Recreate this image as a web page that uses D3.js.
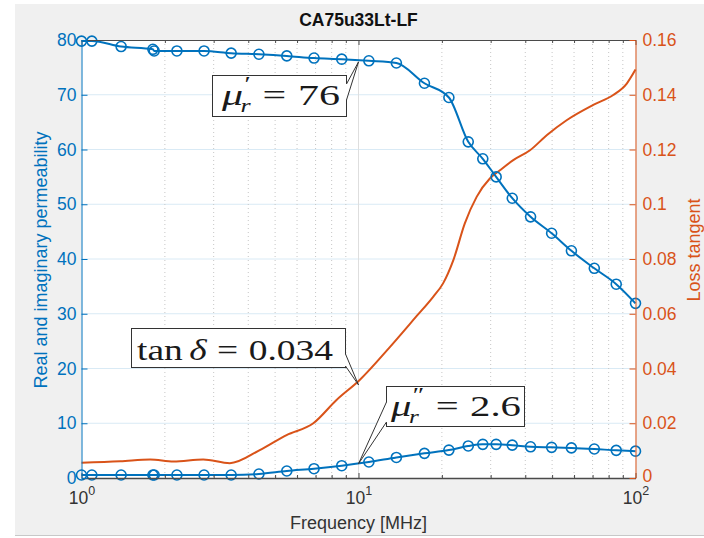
<!DOCTYPE html>
<html lang="en">
<head>
<meta charset="utf-8">
<title>CA75u33Lt-LF</title>
<style>
    body { margin: 0; background: #fff; }
    svg { display: block; font-family: "Liberation Sans", Arial, sans-serif; }
    .axis text { font-size: 17.5px; }
    .math text { font-family: "Liberation Serif", "Times New Roman", serif; fill: #1a1a1a; }
</style>
</head>
<body>
<svg width="704" height="538"></svg>
<script src="https://cdn.jsdelivr.net/npm/d3@7/dist/d3.min.js"></script>
<script>
    // measured frequencies (MHz) of the permeability points
    const freq = [1.00, 1.09, 1.39, 1.81, 1.83, 2.21, 2.77, 3.47, 4.37, 5.51, 6.91, 8.70, 10.9,
        13.7, 17.3, 21.2, 24.9, 28.1, 31.4, 35.9, 41.8, 49.8, 58.7, 71.0, 85.2, 100];
    // real part mu'_r
    const muReal = [79.8, 79.8, 78.8, 78.3, 78.0, 78.0, 78.0, 77.6, 77.4, 77.1, 76.7, 76.5, 76.2,
        75.8, 72.1, 69.5, 61.4, 58.3, 55.0, 51.1, 47.7, 44.7, 41.5, 38.3, 35.4, 31.9];
    // imaginary part mu''_r
    const muImag = [0.55, 0.55, 0.55, 0.55, 0.55, 0.55, 0.55, 0.55, 0.73, 1.28, 1.70, 2.25, 2.92,
        3.75, 4.50, 5.10, 5.85, 6.15, 6.15, 6.00, 5.70, 5.60, 5.50, 5.30, 5.05, 4.90];

    // loss tangent curve (right axis)
    const lossFreq = [1.0, 1.38, 1.77, 2.15, 2.75, 3.43, 4.4, 5.5, 6.87, 8.33, 10.1, 13.0, 16.2,
        18.6, 20.2, 22.0, 24.2, 26.7, 29.8, 32.4, 36.2, 41.6, 47.8, 56.4, 70.4, 83.1, 93.0, 100];
    const lossTan = [0.0056, 0.0061, 0.0068, 0.0060, 0.0068, 0.0054, 0.0102, 0.0157, 0.0200, 0.0285,
        0.0358, 0.0479, 0.0591, 0.0662, 0.0711, 0.0796, 0.0930, 0.1027, 0.1094, 0.1124, 0.1161,
        0.1197, 0.1252, 0.1307, 0.1363, 0.1399, 0.1441, 0.1492];

    // ticks
    const leftTicks = [0, 10, 20, 30, 40, 50, 60, 70, 80];
    const rightTicks = [0, 0.02, 0.04, 0.06, 0.08, 0.1, 0.12, 0.14, 0.16];
    const xTicks = [1, 10, 100];
    const xTickExp = ["0", "1", "2"];

    // annotations at 10 MHz
    const noteFreq = 10;
    const noteMuReal = 76;
    const noteLoss = 0.034;
    const noteMuImag = 2.6;

    const blue = "#0072BD", orange = "#D95319";
    const plot = {left: 81.5, right: 635.5, top: 40, bottom: 478};

    const svg = d3.select("svg");

    // figure background
    svg.append("rect").attr("x", 15).attr("y", 4).attr("width", 689).attr("height", 531)
        .attr("fill", "#f0f0f0");
    svg.append("line").attr("x1", 15).attr("x2", 704).attr("y1", 535.5).attr("y2", 535.5)
        .attr("stroke", "#c8c8c8");

    svg.append("rect").attr("x", plot.left).attr("y", plot.top)
        .attr("width", plot.right - plot.left).attr("height", plot.bottom - plot.top)
        .attr("fill", "#fff");

    const x = d3.scaleLog().domain([1, 100]).range([plot.left, plot.right]);
    const yL = d3.scaleLinear().domain([0, 80]).range([plot.bottom, plot.top]);
    const yR = d3.scaleLinear().domain([0, 0.16]).range([plot.bottom, plot.top]);

    const minor = x.ticks().filter(v => !Number.isInteger(Math.log10(v)));

    // grid
    const grid = svg.append("g");
    grid.selectAll(".hg").data(leftTicks.slice(1, -1)).enter().append("line")
        .attr("x1", plot.left).attr("x2", plot.right)
        .attr("y1", d => yL(d)).attr("y2", d => yL(d))
        .attr("stroke", "#d9eaf5");
    grid.selectAll(".mg").data(minor).enter().append("line")
        .attr("x1", d => x(d)).attr("x2", d => x(d))
        .attr("y1", plot.top).attr("y2", plot.bottom)
        .attr("stroke", "#c6c6c6").attr("stroke-dasharray", "1,3");
    grid.selectAll(".vg").data(xTicks.slice(1, -1)).enter().append("line")
        .attr("x1", d => x(d)).attr("x2", d => x(d))
        .attr("y1", plot.top).attr("y2", plot.bottom)
        .attr("stroke", "#dedede");

    // lines
    const lossLine = d3.line().curve(d3.curveMonotoneX)
        .x((d, i) => x(lossFreq[i])).y(d => yR(d));
    svg.append("path").datum(lossTan).attr("fill", "none").attr("stroke", orange)
        .attr("stroke-width", 2).attr("d", lossLine);

    const muLine = d3.line().curve(d3.curveMonotoneX)
        .x((d, i) => x(freq[i])).y(d => yL(d));
    [muReal, muImag].forEach(series => {
        svg.append("path").datum(series).attr("fill", "none").attr("stroke", blue)
            .attr("stroke-width", 2).attr("d", muLine);
        svg.append("g").selectAll("circle").data(series).enter().append("circle")
            .attr("cx", (d, i) => x(freq[i])).attr("cy", d => yL(d)).attr("r", 5)
            .attr("fill", "none").attr("stroke", blue).attr("stroke-width", 1.6);
    });

    // axes
    const axisGray = "#4a4a4a";
    const bottomAxis = svg.append("g").attr("class", "axis")
        .attr("transform", "translate(0," + plot.bottom + ")")
        .call(d3.axisBottom(x).tickValues(xTicks).tickSize(-5).tickSizeOuter(0).tickFormat(""));
    svg.append("g").attr("transform", "translate(0," + plot.bottom + ")")
        .call(d3.axisBottom(x).tickValues(minor).tickSize(-3).tickSizeOuter(0).tickFormat(""))
        .call(g => g.select(".domain").remove());
    svg.append("g").attr("transform", "translate(0," + plot.top + ")")
        .call(d3.axisTop(x).tickValues(xTicks).tickSize(-5).tickSizeOuter(0).tickFormat(""));
    svg.append("g").attr("transform", "translate(0," + plot.top + ")")
        .call(d3.axisTop(x).tickValues(minor).tickSize(-3).tickSizeOuter(0).tickFormat(""))
        .call(g => g.select(".domain").remove());
    svg.selectAll(".domain, .tick line").attr("stroke", axisGray);
    bottomAxis.select(".domain").attr("stroke-width", 1.4);

    bottomAxis.selectAll(".tick").append("text")
        .attr("y", 26).attr("fill", "#333").attr("text-anchor", "middle")
        .style("font-size", "17.5px")
        .each(function (d, i) {
            const t = d3.select(this);
            t.append("tspan").text("10");
            t.append("tspan").attr("dy", -9).style("font-size", "12.5px").text(xTickExp[i]);
        });

    const leftAxis = svg.append("g").attr("class", "axis")
        .attr("transform", "translate(" + plot.left + ",0)")
        .call(d3.axisLeft(yL).tickValues(leftTicks).tickSize(-6).tickSizeOuter(0).tickPadding(5));
    leftAxis.selectAll("path, line").attr("stroke", blue);
    leftAxis.selectAll("text").attr("fill", blue);

    const rightAxis = svg.append("g").attr("class", "axis")
        .attr("transform", "translate(" + plot.right + ",0)")
        .call(d3.axisRight(yR).tickValues(rightTicks).tickSize(-6).tickSizeOuter(0).tickPadding(7)
            .tickFormat(d3.format("~g")));
    rightAxis.selectAll("path, line").attr("stroke", orange);
    rightAxis.selectAll("text").attr("fill", orange);
    // keep the right "0" clear of the 10^2 label
    rightAxis.selectAll(".tick").filter(d => d === 0).select("text").attr("dy", "0.2em");

    // titles
    svg.append("text").attr("x", (plot.left + plot.right) / 2).attr("y", 26)
        .attr("text-anchor", "middle").attr("font-weight", "bold").attr("font-size", 17.5)
        .attr("fill", "#111").text("CA75u33Lt-LF");
    svg.append("text").attr("x", (plot.left + plot.right) / 2).attr("y", 529)
        .attr("text-anchor", "middle").attr("font-size", 18).attr("fill", "#333")
        .text("Frequency [MHz]");
    svg.append("text").attr("transform", "translate(47,260) rotate(-90)")
        .attr("text-anchor", "middle").attr("font-size", 18).attr("fill", blue)
        .text("Real and imaginary permeability");
    svg.append("text").attr("transform", "translate(700,250) rotate(-90)")
        .attr("text-anchor", "middle").attr("font-size", 18).attr("fill", orange)
        .text("Loss tangent");

    // callout boxes
    function callout(box, b1, b2, tip, atoms, textBox) {
        const g = svg.append("g").attr("class", "math");
        g.append("rect").attr("x", box[0]).attr("y", box[1])
            .attr("width", box[2] - box[0]).attr("height", box[3] - box[1])
            .attr("fill", "#fff").attr("stroke", "#333").attr("stroke-width", 1);
        const cx = (box[0] + box[2]) / 2;
        // push the base points a little inside so the white fill hides the box edge
        const inset = p => [p[0] + Math.sign(cx - p[0]) * 2, p[1]];
        g.append("path").attr("d", d3.line()([inset(b1), b1, tip, b2, inset(b2)]))
            .attr("fill", "#fff").attr("stroke", "none");
        g.append("path").attr("d", d3.line()([b1, tip, b2]))
            .attr("fill", "none").attr("stroke", "#333").attr("stroke-width", 1);

        const fs = 30;
        const tg = g.append("g");
        let px = 0;
        atoms.forEach(a => {
            px += (a.pre || 0) * fs;
            const m = tg.append("text").attr("x", px).attr("y", textBox[2])
                .attr("font-size", fs).attr("font-style", a.it ? "italic" : null).text(a.t);
            px += m.node().getComputedTextLength();
            let extra = 0;
            if (a.sup) {
                const s = tg.append("text").attr("x", px + 1).attr("y", textBox[2] - fs * 0.45)
                    .attr("font-size", fs * 0.68).text(a.sup);
                extra = Math.max(extra, s.node().getComputedTextLength() + 1);
            }
            if (a.sub) {
                const s = tg.append("text").attr("x", px - fs * 0.06).attr("y", textBox[2] + fs * 0.24)
                    .attr("font-size", fs * 0.62).attr("font-style", "italic").text(a.sub);
                extra = Math.max(extra, s.node().getComputedTextLength() - fs * 0.06);
            }
            px += extra + (a.post || 0) * fs;
        });
        tg.attr("transform", "translate(" + textBox[0] + ",0) scale(" + ((textBox[1] - textBox[0]) / px) + ",1)");
    }

    const tipReal = [x(noteFreq), yL(noteMuReal)];
    const tipLoss = [x(noteFreq), yR(noteLoss)];
    const tipImag = [x(noteFreq), yL(noteMuImag)];

    callout([212.5, 75.5, 346.5, 116.5], [346.5, 84], [346.5, 100], tipReal,
        [{t: "μ", it: true, sup: "′", sub: "r"}, {t: "=", pre: 0.28, post: 0.28}, {t: String(noteMuReal)}],
        [222, 340, 105]);
    callout([131.5, 328.5, 345.5, 367.5], [345.5, 354], [345.5, 366], tipLoss,
        [{t: "tan"}, {t: "δ", it: true, pre: 0.17}, {t: "=", pre: 0.28, post: 0.28}, {t: String(noteLoss)}],
        [137, 333, 360]);
    callout([386.5, 386.5, 524.5, 426.5], [386.5, 402], [386.5, 422], tipImag,
        [{t: "μ", it: true, sup: "″", sub: "r"}, {t: "=", pre: 0.28, post: 0.28}, {t: String(noteMuImag)}],
        [391, 521, 416]);
</script>
</body>
</html>
